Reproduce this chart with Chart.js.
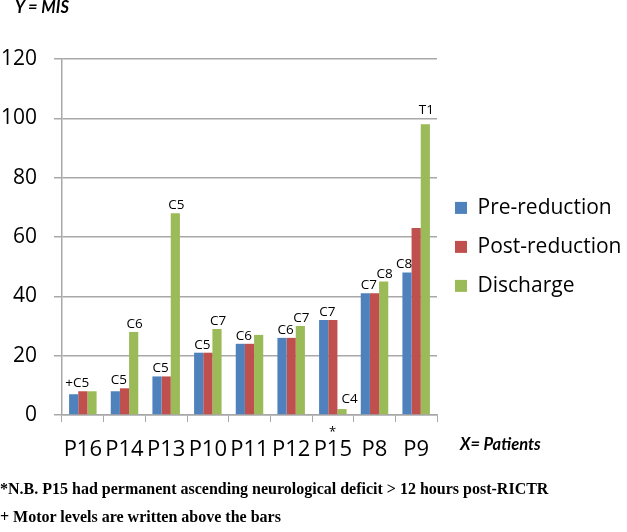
<!DOCTYPE html>
<html>
<head>
<meta charset="utf-8">
<script src="https://cdn.jsdelivr.net/npm/chart.js@4.4.1/dist/chart.umd.min.js"></script>
<style>
    html, body { margin: 0; padding: 0; background: #fff; }
    #wrap { position: relative; width: 627px; height: 532px; }
    #chart { position: absolute; left: 0; top: 0; }
    .note { position: absolute; white-space: nowrap; color: #000; line-height: 1; }
    .axis-name { font-family: Lato, 'Open Sans', sans-serif; font-weight: bold; font-style: italic; font-size: 16.5px; }
    .foot { font-family: 'Liberation Serif', 'DejaVu Serif', serif; font-weight: bold; font-size: 16px; }
</style>
</head>
<body>
<div id="wrap">
    <canvas id="chart" width="627" height="532"></canvas>
    <div class="note axis-name" style="left:15px;top:-1px;">Y = MIS</div>
    <div class="note axis-name" style="left:460px;top:436px;">X= Patients</div>
    <div class="note" style="left:329px;top:425px;font-family:'Open Sans',sans-serif;font-size:13px;">*</div>
    <div class="note foot" style="left:0;top:481px;">*N.B. P15 had permanent ascending neurological deficit &gt; 12 hours post-RICTR</div>
    <div class="note foot" style="left:0;top:509px;">+ Motor levels are written above the bars</div>
</div>
<script>
    'use strict';

    const patients = ['P16', 'P14', 'P13', 'P10', 'P11', 'P12', 'P15', 'P8', 'P9'];
    const preReduction = [7, 8, 13, 21, 24, 26, 32, 41, 48];
    const postReduction = [8, 9, 13, 21, 24, 26, 32, 41, 63];
    const discharge = [8, 28, 68, 29, 27, 30, 2, 45, 98];
    // motor levels written above the bars
    const levelPre = ['+C5', 'C5', 'C5', 'C5', 'C6', 'C6', 'C7', 'C7', 'C8'];
    const levelDischarge = ['', 'C6', 'C5', 'C7', '', 'C7', 'C4', 'C8', 'T1'];
    const yTicks = [0, 20, 40, 60, 80, 100, 120];

    const FONT = '"Open Sans", Lato, sans-serif';
    const GRID = '#a8a8a8';

    const motorLabels = {
        id: 'motorLabels',
        afterDatasetsDraw(chart) {
            const ctx = chart.ctx;
            const pre = chart.getDatasetMeta(0).data;
            const post = chart.getDatasetMeta(1).data;
            const dis = chart.getDatasetMeta(2).data;
            ctx.save();
            ctx.font = '13.5px ' + FONT;
            ctx.fillStyle = '#000';
            ctx.textAlign = 'center';
            ctx.textBaseline = 'alphabetic';
            patients.forEach((p, i) => {
                const b = pre[i], r = post[i], g = dis[i];
                if (levelPre[i]) {
                    let x = (b.x + r.x) / 2 - 1;
                    let y = Math.min(b.y, r.y) - 4;
                    if (postReduction[i] - preReduction[i] > 5) {
                        x = b.x - 3;
                        y = b.y - 5;
                    }
                    ctx.fillText(levelPre[i], x, y);
                }
                if (levelDischarge[i]) {
                    let x = g.x + 1;
                    let y = g.y - 4;
                    if (discharge[i] < postReduction[i]) {
                        x = g.x + g.width / 2 + 3;
                        y = g.y - 6;
                    } else if (i === patients.length - 1) {
                        y = g.y - 10;
                    }
                    ctx.fillText(levelDischarge[i], x, y);
                }
            });
            ctx.restore();
        }
    };

    new Chart(document.getElementById('chart'), {
        type: 'bar',
        data: {
            labels: patients,
            datasets: [
                { label: 'Pre-reduction', data: preReduction, backgroundColor: '#4F81BD' },
                { label: 'Post-reduction', data: postReduction, backgroundColor: '#C0504D' },
                { label: 'Discharge', data: discharge, backgroundColor: '#9BBB59' }
            ]
        },
        options: {
            responsive: false,
            animation: false,
            datasets: { bar: { categoryPercentage: 0.66, barPercentage: 1.0 } },
            layout: { padding: { top: 59, left: 0, right: 0, bottom: 0 } },
            plugins: {
                tooltip: { enabled: false },
                legend: {
                    position: 'right',
                    align: 'start',
                    maxWidth: 190,
                    // empty title only pushes the items down to sit beside the bars
                    title: { display: true, text: ' ', font: { size: 12 }, padding: { top: 106, bottom: 0 } },
                    labels: {
                        font: { family: FONT, size: 21 },
                        color: '#000',
                        boxWidth: 12,
                        boxHeight: 12,
                        padding: 18
                    }
                }
            },
            scales: {
                x: {
                    grid: { drawOnChartArea: false, drawTicks: true, tickLength: 7, color: GRID },
                    border: { color: GRID, width: 1.5 },
                    ticks: { font: { family: FONT, size: 22 }, color: '#000', padding: 15, maxRotation: 0, autoSkip: false },
                    afterFit(scale) { scale.height = 117; }
                },
                y: {
                    min: 0,
                    max: 120,
                    afterBuildTicks(scale) { scale.ticks = yTicks.map(v => ({ value: v })); },
                    grid: { color: GRID, tickLength: 8, lineWidth: 1.5 },
                    border: { color: GRID, width: 1.5 },
                    ticks: { font: { family: FONT, size: 21 }, color: '#000', padding: 17 },
                    afterFit(scale) { scale.width = 62; }
                }
            }
        },
        plugins: [motorLabels]
    });
</script>
</body>
</html>
